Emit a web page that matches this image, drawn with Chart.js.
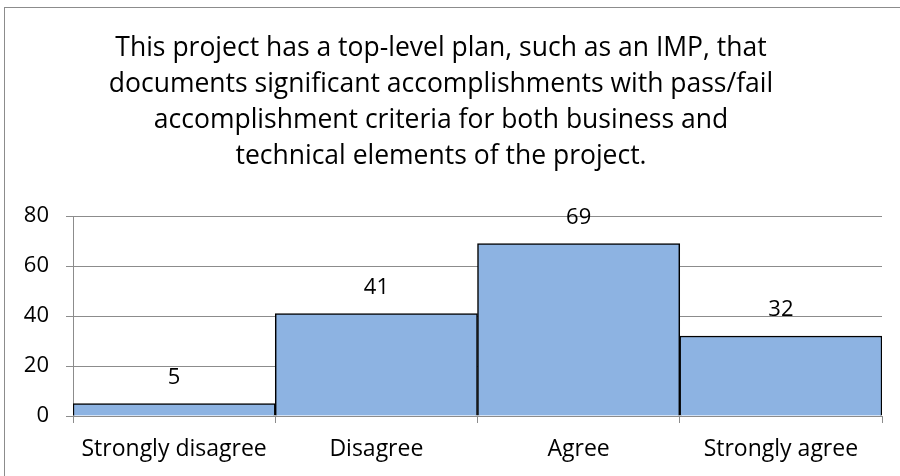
<!DOCTYPE html>
<html>
<head>
<meta charset="utf-8">
<script src="https://cdn.jsdelivr.net/npm/chart.js@4/dist/chart.umd.min.js"></script>
<style>
  html, body { margin: 0; padding: 0; background: #fff; }
  #wrap { width: 900px; height: 476px; }
</style>
</head>
<body>
<div id="wrap"><canvas id="myChart" width="900" height="476"></canvas></div>
<script>
// data
const categories = ["Strongly disagree", "Disagree", "Agree", "Strongly agree"];
const counts = [5, 41, 69, 32];
const yTicks = [0, 20, 40, 60, 80];
const titleLines = [
  "This project has a top-level plan, such as an IMP, that",
  "documents significant accomplishments with pass/fail",
  "accomplishment criteria for both business and",
  "technical elements of the project."
];

const FONT = "'Open Sans', Lato, sans-serif";

// frame around the whole chart, like the office export
const framePlugin = {
  id: "frame",
  beforeDraw(chart) {
    const ctx = chart.ctx;
    ctx.save();
    ctx.fillStyle = "#fff";
    ctx.fillRect(0, 0, chart.width, chart.height);
    ctx.strokeStyle = "#8c8c8c";
    ctx.lineWidth = 1;
    ctx.strokeRect(4.5, 7.5, chart.width + 10, chart.height + 10);
    ctx.restore();
  }
};

// value labels above each bar
const valueLabels = {
  id: "valueLabels",
  afterDatasetsDraw(chart) {
    const ctx = chart.ctx;
    const meta = chart.getDatasetMeta(0);
    ctx.save();
    ctx.font = "22px " + FONT;
    ctx.fillStyle = "#000";
    ctx.textAlign = "center";
    ctx.textBaseline = "middle";
    meta.data.forEach((bar, i) => {
      ctx.fillText(String(counts[i]), bar.x, bar.y - 26);
    });
    ctx.restore();
  }
};

const data = {
  labels: categories,
  datasets: [
    {
      data: counts,
      backgroundColor: "#8db3e2",
      borderColor: "#000",
      borderWidth: 1.5,
      barPercentage: 1,
      categoryPercentage: 1,
    },
  ],
};

const config = {
  type: "bar",
  data: data,
  plugins: [framePlugin, valueLabels],
  options: {
    responsive: false,
    animation: false,
    layout: { padding: { left: 0, right: 18, top: 0, bottom: 0 } },
    plugins: {
      legend: { display: false },
      tooltip: { enabled: false },
      title: {
        display: true,
        text: titleLines,
        color: "#000",
        font: { family: FONT, size: 26.5, weight: "normal", lineHeight: 36 / 26.5 },
        padding: { top: 30, bottom: 42 },
      },
    },
    scales: {
      x: {
        grid: {
          drawOnChartArea: false,
          drawTicks: true,
          tickLength: 7,
          color: "#8c8c8c",
        },
        border: { color: "#8c8c8c", width: 1 },
        ticks: {
          color: "#000",
          font: { family: FONT, size: 23 },
          padding: 13,
          maxRotation: 0,
        },
        afterFit(scale) { scale.height = 60; },
      },
      y: {
        min: 0,
        max: 80,
        afterBuildTicks(scale) { scale.ticks = yTicks.map(v => ({ value: v })); },
        grid: { color: "#8c8c8c", tickLength: 7 },
        border: { color: "#8c8c8c", width: 1 },
        ticks: {
          color: "#000",
          font: { family: FONT, size: 22 },
          padding: 17,
        },
        afterFit(scale) { scale.width = 73; },
      },
    },
  },
};

let context = document.getElementById("myChart").getContext("2d");
let chart = new Chart(context, config);
</script>
</body>
</html>
